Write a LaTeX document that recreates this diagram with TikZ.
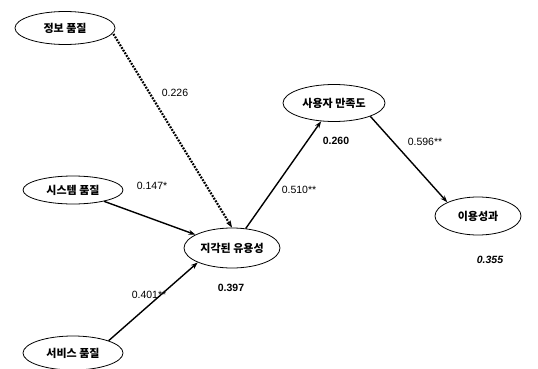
\documentclass[tikz,border=0pt]{standalone}
\usepackage{fontspec}
\setmainfont{Liberation Sans}
\newfontfamily\kr{Noto Sans CJK KR}
\usetikzlibrary{shapes.geometric,arrows.meta}
\begin{document}
\begin{tikzpicture}[x=1pt,y=-1pt,
  construct/.style={draw,ellipse,line width=0.8pt,minimum width=#1,font=\kr\fontsize{11}{12}\selectfont\bfseries,inner sep=0pt},
  construct/.default=100pt,
  path/.style={line width=1.4pt,-{Stealth[length=7pt,width=5pt]}},
  dotpath/.style={line width=2.2pt,dash pattern=on 1.8pt off 1.3pt,-{Stealth[length=7pt,width=5pt]}},
  coef/.style={font=\fontsize{10.5}{12}\selectfont},
  rsq/.style={font=\fontsize{10.5}{12}\selectfont\bfseries}]
\useasboundingbox (0,0) rectangle (538,369);
\node[construct=100pt,minimum height=33pt] (info) at (65,28) {정보 품질};
\node[construct=100pt,minimum height=28pt] (sys) at (73,190) {시스템 품질};
\node[construct=100pt,minimum height=34pt] (svc) at (73,353) {서비스 품질};
\node[construct=96pt,minimum height=40pt] (pu) at (232,248) {지각된 유용성};
\node[construct=102pt,minimum height=37pt] (sat) at (334,103) {사용자 만족도};
\node[construct=86pt,minimum height=38pt] (perf) at (478,216) {이용성과};
\coordinate (i1) at ([shift={(-2,6)}]info.east);
\draw[dotpath] (i1) -- (pu.north);
\draw[path] (sys) -- (pu);
\draw[path] (svc.north east) -- (pu.south west);
\draw[path] (pu) -- (sat);
\draw[path] (sat.south east) -- (perf.north west);
\node[coef] (c1) at (175,93) {0.226};
\node[coef] (c2) at (152,186) {0.147*};
\node[coef] (c3) at (149,295) {0.401**};
\node[coef] (c4) at (299,190) {0.510**};
\node[coef] (c5) at (425,142) {0.596**};
\node[rsq] (r1) at (231,288) {0.397};
\node[rsq] (r2) at (336,141) {0.260};
\node[rsq,font=\fontsize{10.5}{12}\selectfont\bfseries\itshape] (r3) at (490,260) {0.355};
\end{tikzpicture}
\end{document}
